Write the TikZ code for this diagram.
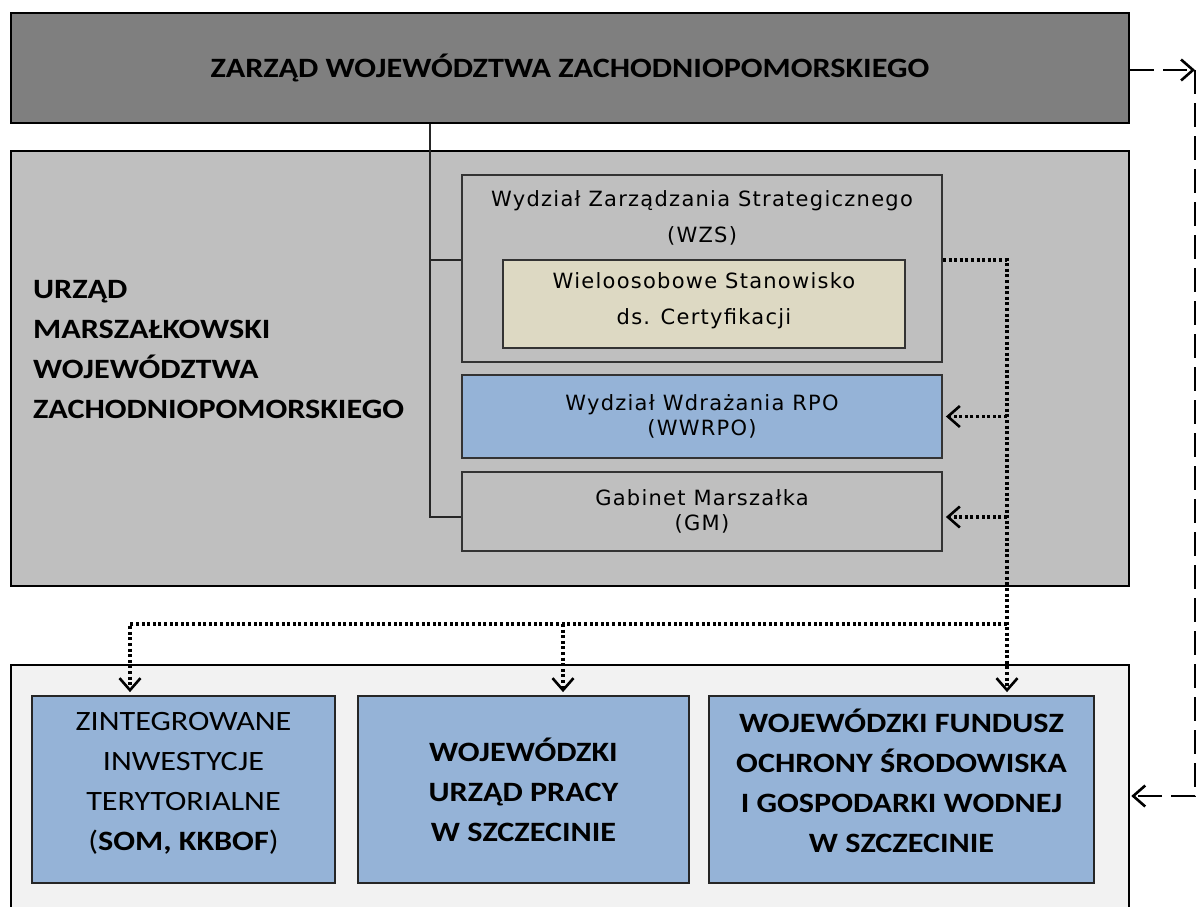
\documentclass[tikz,border=0pt]{standalone}
\usepackage{fontspec}
\newfontfamily\carlito[FakeStretch=1.15]{Carlito}
\newfontfamily\verdanish[LetterSpace=6]{DejaVu Sans}
\usetikzlibrary{arrows.meta}
\definecolor{zarzadgray}{HTML}{7F7F7F}
\definecolor{urzadgray}{HTML}{BFBFBF}
\definecolor{certbeige}{HTML}{DDD9C3}
\definecolor{unitblue}{HTML}{95B3D7}
\definecolor{jstgray}{HTML}{F2F2F2}
\tikzset{
  outerbox/.style={draw=black, line width=2.5pt, inner sep=0pt},
  unitbox/.style={draw=black!80, line width=1.8pt, inner sep=0pt, align=center,
    font=\verdanish\fontsize{21}{25}\selectfont},
  bigbox/.style={draw=black!85, line width=1.8pt, fill=unitblue, inner sep=0pt, align=center,
    font=\carlito\fontsize{28}{40}\selectfont},
  link/.style={line width=1.6pt, color=black!85},
  dotline/.style={line width=3.2pt, dash pattern=on 3pt off 2.6pt},
  dashline/.style={line width=2.2pt, dash pattern=on 24pt off 9pt},
  barb/.style={-{Straight Barb[length=12pt,width=21pt,line width=2.6pt]}, shorten >=3pt}
}

\begin{document}
\begin{tikzpicture}[x=1pt, y=-1pt]
	%%%%% START %%%%%
	\clip (0, 0) rectangle (1197, 906);

	% named points for the links
	\coordinate (trunk) at (430, 517);
	\coordinate (wzsjoin) at (430, 260);
	\coordinate (dotbend) at (1007, 260);
	\coordinate (dotbus) at (1007, 624);
	\coordinate (zitdrop) at (130, 624);
	\coordinate (wupdrop) at (563, 624);
	\coordinate (dashtop) at (1195, 70);
	\coordinate (dashbot) at (1195, 796);

	\node[outerbox, fill=zarzadgray, minimum width=1118pt, minimum height=110pt,
		font=\carlito\bfseries\fontsize{28}{40}\selectfont] (zarzad) at (570, 68)
		{ZARZĄD WOJEWÓDZTWA ZACHODNIOPOMORSKIEGO};

	\node[outerbox, fill=urzadgray, minimum width=1118pt, minimum height=435pt] (urzad) at (570, 368.5) {};
	\node[anchor=west, align=left, inner sep=0pt, font=\carlito\bfseries\fontsize{28}{40}\selectfont]
		(urzadtext) at (33, 350) {URZĄD\\MARSZAŁKOWSKI\\WOJEWÓDZTWA\\ZACHODNIOPOMORSKIEGO};

	\node[unitbox, fill=urzadgray, minimum width=480pt, minimum height=187pt] (wzs) at (702, 268.5) {};
	\node[unitbox, draw=none, font=\verdanish\fontsize{21}{36}\selectfont] (wzstext) at (702, 218)
		{Wydział Zarządzania Strategicznego\\(WZS)};
	\node[unitbox, fill=certbeige, minimum width=402pt, minimum height=88pt,
		font=\verdanish\fontsize{21}{36}\selectfont, text depth=10pt] (cert) at (704, 304)
		{Wieloosobowe Stanowisko\\ds. Certyfikacji};

	\node[unitbox, fill=unitblue, minimum width=480pt, minimum height=83pt] (wwrpo) at (702, 416.5)
		{Wydział Wdrażania RPO\\(WWRPO)};
	\node[unitbox, fill=urzadgray, minimum width=480pt, minimum height=79pt] (gm) at (702, 511.5)
		{Gabinet Marszałka\\(GM)};

	\node[outerbox, fill=jstgray, minimum width=1118pt, minimum height=265pt] (jst) at (570, 797.5) {};
	\node[bigbox, minimum width=303pt, minimum height=187pt, text depth=17pt] (zit) at (183.5, 789.5)
		{ZINTEGROWANE\\INWESTYCJE\\TERYTORIALNE\\({\bfseries SOM, KKBOF})};
	\node[bigbox, minimum width=331pt, minimum height=187pt, font=\carlito\bfseries\fontsize{28}{40}\selectfont]
		(wup) at (523.5, 789.5) {WOJEWÓDZKI\\URZĄD PRACY\\W SZCZECINIE};
	\node[bigbox, minimum width=385pt, minimum height=187pt, text depth=18pt,
		font=\carlito\bfseries\fontsize{28}{40}\selectfont]
		(wfos) at (901.5, 789.5) {WOJEWÓDZKI FUNDUSZ\\OCHRONY ŚRODOWISKA\\I GOSPODARKI WODNEJ\\W SZCZECINIE};

	% solid links
	\draw[link] (zarzad.south -| trunk) -- (trunk) -- (trunk -| gm.west);
	\draw[link] (wzsjoin) -- (wzsjoin -| wzs.west);

	% dotted links
	\draw[dotline, barb] (wzsjoin -| wzs.east) -- (dotbend) -- (dotbend |- wfos.north);
	\draw[dotline, barb] (wwrpo.east -| dotbend) -- (wwrpo.east);
	\draw[dotline, barb] (trunk -| dotbend) -- (trunk -| gm.east);
	\draw[dotline, barb] (dotbus) -- (zitdrop) -- (zitdrop |- zit.north);
	\draw[dotline, barb] (wupdrop) -- (wupdrop |- wup.north);

	% dashed links
	\draw[dashline, barb, shorten >=0pt] (zarzad.east |- dashtop) -- (dashtop);
	\draw[dashline, barb, shorten >=1pt] (dashtop) -- (dashbot) -- (dashbot -| jst.east);
	%%%%% END %%%%%
\end{tikzpicture}
\end{document}
